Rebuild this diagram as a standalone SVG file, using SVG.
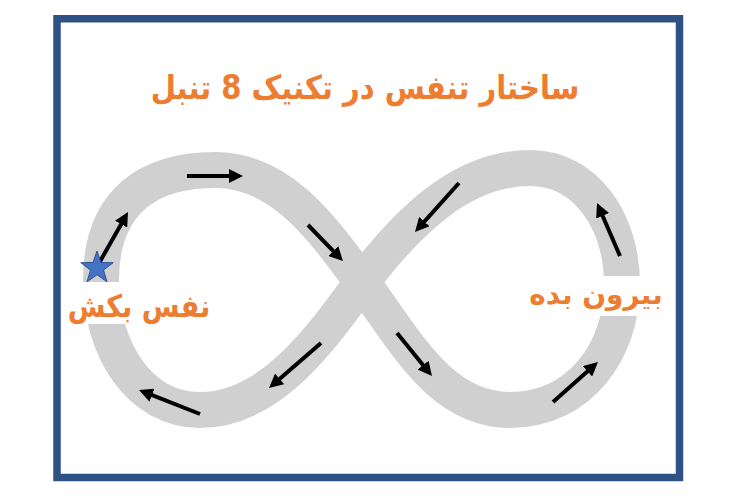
<svg xmlns="http://www.w3.org/2000/svg" width="740" height="500" viewBox="0 0 740 500">
<style>
.lbl{font-family:"DejaVu Sans",sans-serif;font-weight:bold;fill:#ED7D31;text-anchor:middle}
.arr{stroke:#000;stroke-width:4;fill:none;marker-end:url(#ah)}
</style>
<defs>
<marker id="ah" markerUnits="userSpaceOnUse" markerWidth="14" markerHeight="14" refX="2" refY="7" orient="auto">
<path d="M0,0 L14,7 L0,14 Z" fill="#000"/>
</marker>
</defs>
<rect width="740" height="500" fill="#fff"/>
<g id="band">
<path d="M101,280 C101,200 150,170 215,170 C280,170 320,225 362,282 C405,340 440,410 510,410 C580,410 622,350 622,285 C622,220 585,168 530,168 C460,168 405,225 362,282 C320,340 270,410 200,410 C140,410 101,350 101,280 Z" fill="none" stroke="#D0D0D0" stroke-width="36"/>
</g>
<g id="title">
<text class="lbl" transform="translate(365,99) scale(0.88,1)" x="0" y="0" font-size="33" direction="rtl">ساختار تنفس در تکنیک 8 تنبل</text>
</g>
<g id="inhale">
<rect x="66" y="282" width="148" height="42" fill="#fff"/>
<text class="lbl" transform="translate(139,317) scale(0.88,1)" x="0" y="0" font-size="31" direction="rtl">نفس بکش</text>
</g>
<g id="exhale">
<rect x="525" y="276" width="143" height="40" fill="#fff"/>
<text class="lbl" x="596" y="304" font-size="28" direction="rtl">بیرون بده</text>
</g>
<g id="connectors">
<line class="arr" x1="98" y1="265" x2="122.1" y2="222.4"/>
<line class="arr" x1="187" y1="176" x2="231" y2="176"/>
<line class="arr" x1="308" y1="225" x2="334.6" y2="252.4"/>
<line class="arr" x1="459" y1="183" x2="423" y2="223.1"/>
<line class="arr" x1="620" y1="256" x2="601.8" y2="214"/>
<line class="arr" x1="553" y1="402" x2="589" y2="370"/>
<line class="arr" x1="397" y1="333" x2="424.4" y2="366.7"/>
<line class="arr" x1="321" y1="343" x2="278.1" y2="380.2"/>
<line class="arr" x1="200" y1="414" x2="150.2" y2="394.4"/>
</g>
<g id="star">
<polygon points="97,251 101,262.5 113.2,262.7 103.5,270.1 107,281.8 97,274.8 87,281.8 90.5,270.1 80.8,262.7 93,262.5" fill="#4472C4" stroke="#2F528F" stroke-width="1"/>
</g>
<g id="frame">
<rect x="57" y="18.75" width="622.5" height="458.75" fill="none" stroke="#2F5286" stroke-width="7.5"/>
</g>
</svg>
